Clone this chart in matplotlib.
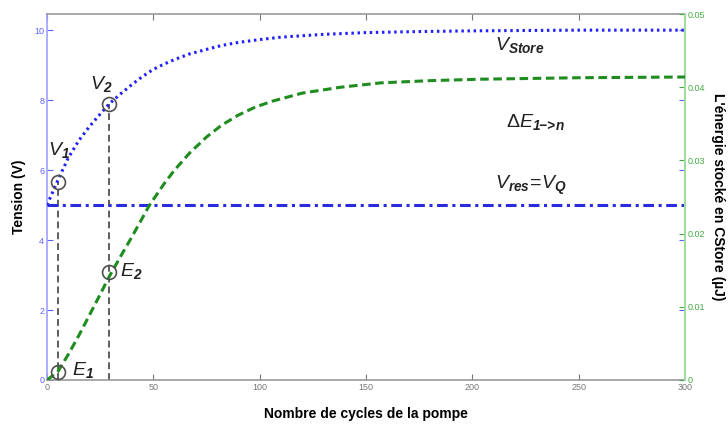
import numpy as np
import matplotlib
matplotlib.use("Agg")
import matplotlib.pyplot as plt

plt.rcParams["font.family"] = ["Liberation Sans", "DejaVu Sans"]
plt.rcParams["mathtext.fontset"] = "custom"
plt.rcParams["mathtext.rm"] = "Liberation Sans"
plt.rcParams["mathtext.it"] = "Liberation Sans:italic"
plt.rcParams["mathtext.bf"] = "Liberation Sans:italic:bold"

# tension V_store (V) versus pump cycles
cycles_v = [0, 5, 10, 15, 20, 25, 29, 35, 40, 45, 50, 55, 60, 67, 75, 82, 90, 100, 110, 130,
            150, 175, 200, 250, 300]
v_store = [5.0, 5.7, 6.35, 6.85, 7.25, 7.6, 7.88, 8.2, 8.45, 8.68, 8.88, 9.03, 9.16, 9.32, 9.45,
           9.56, 9.65, 9.73, 9.8, 9.88, 9.93, 9.96, 9.98, 10.0, 10.0]

# stored energy (uJ) versus pump cycles
cycles_e = [0, 5, 10, 15, 20, 25, 29, 35, 40, 44, 48, 55, 60, 67, 75, 82, 90, 98, 106, 120,
            138, 157, 180, 204, 250, 300]
energy = [0.0, 0.0011, 0.0035, 0.0061, 0.0089, 0.0117, 0.0140, 0.0171, 0.0196, 0.0217, 0.0238,
          0.0268, 0.0287, 0.0310, 0.0332, 0.0348, 0.0362, 0.0373, 0.0381, 0.0392, 0.0400,
          0.0406, 0.0409, 0.0411, 0.0413, 0.0414]

v_res = 5.0
mark_cycles = [5, 29]
mark_v = [5.67, 7.88]
mark_e = [0.0011, 0.0148]

fig = plt.figure(figsize=(7.28, 4.26), dpi=100)
ax = fig.add_axes([0.0646, 0.108, 0.8764, 0.859])
ax2 = ax.twinx()

ax.plot(cycles_v, v_store, color="#2020ff", lw=2.2, ls=(0, (0.8, 1.2)), zorder=3)
ax.axhline(v_res, color="#2a2ae0", lw=2.2, ls=(0, (3.5, 1.5, 1, 1.5)), zorder=3)
for c, v in zip(mark_cycles, mark_v):
    ax.plot([c, c], [0, v], color="#505050", lw=1.3, ls=(0, (3.8, 2.2)), zorder=2)
ax.plot(mark_cycles, mark_v, "o", mfc="none", mec="#505050", ms=10, mew=1.2, zorder=4)

ax2.plot(cycles_e, energy, color="#1e8c1e", lw=2.2, ls=(0, (2.8, 1.5)), zorder=3)
ax2.plot(mark_cycles, mark_e, "o", mfc="none", mec="#505050", ms=10, mew=1.2, zorder=4)

ax.set_xlim(0, 300)
ax.set_ylim(0, 10.46)
ax2.set_ylim(0, 0.05)
ax.set_xticks([0, 50, 100, 150, 200, 250, 300])
ax.set_yticks([0, 2, 4, 6, 8, 10])
ax2.set_yticks([0, 0.01, 0.02, 0.03, 0.04, 0.05])
ax2.set_yticklabels(["0", "0.01", "0.02", "0.03", "0.04", "0.05"])

ax.tick_params(axis="x", direction="in", top=True, colors="#777777", labelsize=6.5, length=4, pad=2)
ax.tick_params(axis="y", direction="in", right=True, colors="#6060ff", labelsize=6.5, length=4, pad=2)
ax2.tick_params(axis="y", direction="in", colors="#44aa44", labelsize=6.5, length=4, pad=2)

ax.spines["top"].set_color("#999999")
ax.spines["bottom"].set_color("#999999")
ax.spines["left"].set_color("#a0a0ff")
ax2.spines["right"].set_color("#a0dca0")
ax2.spines["left"].set_visible(False)
ax2.spines["top"].set_visible(False)
ax2.spines["bottom"].set_visible(False)
for s in ax.spines.values():
    s.set_linewidth(1.2)
ax2.spines["right"].set_linewidth(1.5)
ax.spines["right"].set_visible(False)

ax.set_xlabel("Nombre de cycles de la pompe", fontsize=10, fontweight="bold", labelpad=11)
ax.set_ylabel("Tension (V)", fontsize=10, fontweight="bold", labelpad=6)
ax2.set_ylabel("L'énergie stocké en CStore (µJ)", fontsize=10, fontweight="bold",
               rotation=270, labelpad=14)

tk = dict(fontsize=14, va="center", ha="left", color="#222222")
ax.text(210.6, 9.57, r"$V_{\mathbf{Store}}$", **tk)
ax.text(216, 7.37, r"$\Delta E_{\mathbf{1\!\!-\!\!>\!n}}$", **tk)
ax.text(210.6, 5.57, r"$V_{\mathbf{res}}\!=\!V_{\mathbf{Q}}$", **tk)
ax.text(0.3, 6.57, r"$V_{\mathbf{1}}$", **tk)
ax.text(20.2, 8.46, r"$V_{\mathbf{2}}$", **tk)
ax.text(34.3, 3.11, r"$E_{\mathbf{2}}$", **tk)
ax.text(11.8, 0.29, r"$E_{\mathbf{1}}$", **tk)

fig.savefig("out.png", dpi=100)
